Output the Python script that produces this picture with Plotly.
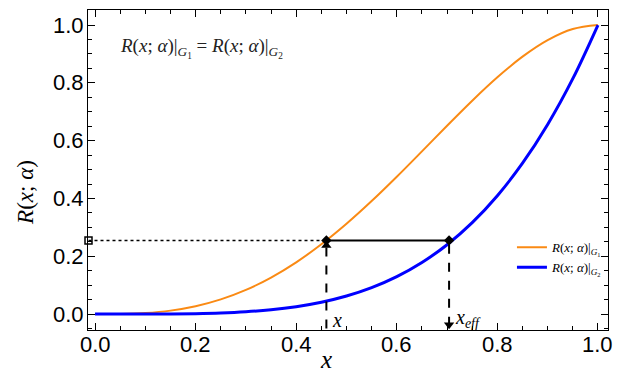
import plotly.graph_objects as go

# Sample points of the two response curves
x_grid = [0.0, 0.05, 0.10, 0.15, 0.20, 0.25, 0.30, 0.35, 0.40, 0.45, 0.50,
          0.55, 0.60, 0.65, 0.70, 0.75, 0.80, 0.85, 0.90, 0.95, 1.0]
r_g1 = [0.0, 0.0005, 0.0037, 0.0120, 0.0272, 0.0508, 0.0837, 0.1265, 0.1792,
        0.2415, 0.3125, 0.3910, 0.4752, 0.5630, 0.6517, 0.7383, 0.8192,
        0.8905, 0.9477, 0.9860, 1.0]
r_g2 = [0.0, 0.0, 0.0001, 0.0005, 0.0016, 0.0039, 0.0081, 0.0150, 0.0256,
        0.0410, 0.0625, 0.0915, 0.1296, 0.1785, 0.2401, 0.3164, 0.4096,
        0.5220, 0.6561, 0.8145, 1.0]

# Matching construction
r_level = 0.255
x_point = 0.46
x_eff = 0.704
x_axis_left = -0.013
y_floor = -0.05

tick_vals = [0.0, 0.2, 0.4, 0.6, 0.8, 1.0]
tick_text = ["0.0", "0.2", "0.4", "0.6", "0.8", "1.0"]

ORANGE = "#FA8A14"
BLUE = "#0000FF"
SERIF = "Liberation Serif"
SANS = "Liberation Sans"

R_LABEL = "<i>R</i>(<i>x</i>; <i>α</i>)"

fig = go.Figure()

fig.add_trace(go.Scatter(
    x=x_grid, y=r_g1, mode="lines", line=dict(color=ORANGE, width=2, shape="spline"),
    name=R_LABEL + "|<sub><i>G</i><sub>1</sub></sub>"))
fig.add_trace(go.Scatter(
    x=x_grid, y=r_g2, mode="lines", line=dict(color=BLUE, width=3, shape="spline"),
    name=R_LABEL + "|<sub><i>G</i><sub>2</sub></sub>"))

# dotted guide from the axis to the first curve
fig.add_trace(go.Scatter(
    x=[x_axis_left, x_point], y=[r_level, r_level], mode="lines",
    line=dict(color="black", width=1.5, dash="dot"), showlegend=False, hoverinfo="skip"))
# solid connector between the curves
fig.add_trace(go.Scatter(
    x=[x_point, x_eff], y=[r_level, r_level], mode="lines",
    line=dict(color="black", width=2), showlegend=False, hoverinfo="skip"))
# dashed drop lines
fig.add_trace(go.Scatter(
    x=[x_point, x_point], y=[y_floor, r_level], mode="lines",
    line=dict(color="black", width=2, dash="dash"), showlegend=False, hoverinfo="skip"))
fig.add_trace(go.Scatter(
    x=[x_eff, x_eff], y=[y_floor + 0.01, r_level], mode="lines",
    line=dict(color="black", width=2, dash="dash"), showlegend=False, hoverinfo="skip"))

# arrow heads
fig.add_trace(go.Scatter(
    x=[x_point], y=[r_level - 0.018], mode="markers",
    marker=dict(symbol="triangle-up", size=9, color="black"),
    showlegend=False, hoverinfo="skip", cliponaxis=False))
fig.add_trace(go.Scatter(
    x=[x_eff], y=[y_floor + 0.013], mode="markers",
    marker=dict(symbol="triangle-down", size=9, color="black"),
    showlegend=False, hoverinfo="skip", cliponaxis=False))

# intersection markers
fig.add_trace(go.Scatter(
    x=[x_point, x_eff], y=[r_level, r_level], mode="markers",
    marker=dict(symbol="diamond", size=8, color="black"),
    showlegend=False, hoverinfo="skip"))
fig.add_trace(go.Scatter(
    x=[x_axis_left], y=[r_level], mode="markers",
    marker=dict(symbol="square-open", size=7, color="black", line=dict(width=1.5)),
    showlegend=False, hoverinfo="skip", cliponaxis=False))

# point labels
fig.add_annotation(x=x_point + 0.008, y=-0.022, text="<i>x</i>", showarrow=False,
                   xanchor="left", font=dict(family=SERIF, size=20, color="black"))
fig.add_annotation(x=x_eff + 0.008, y=-0.016, text="<i>x<sub>eff</sub></i>", showarrow=False,
                   xanchor="left", font=dict(family=SERIF, size=20, color="black"))
fig.add_annotation(x=0.045, y=0.92, xref="x", yref="y",
                   text=R_LABEL + "|<sub><i>G</i><sub>1</sub></sub> = " + R_LABEL
                   + "|<sub><i>G</i><sub>2</sub></sub>",
                   showarrow=False, xanchor="left",
                   font=dict(family=SERIF, size=19, color="#222"))

# tick labels placed tight against the frame
tick_font = dict(family=SANS, size=22, color="black")
for v, t in zip(tick_vals, tick_text):
    fig.add_annotation(x=v, xref="x", y=0, yref="paper", text=t, showarrow=False,
                       yanchor="top", yshift=0, font=tick_font)
    fig.add_annotation(x=0, xref="paper", y=v, yref="y", text=t, showarrow=False,
                       xanchor="right", xshift=-2, font=tick_font)

# axis titles
fig.add_annotation(x=0.458, xref="paper", y=0, yref="paper", text="<i>x</i>",
                   showarrow=False, yanchor="bottom", yshift=-44, borderpad=0,
                   font=dict(family=SERIF, size=25, color="black"))
fig.add_annotation(x=0, xref="paper", y=0.43, yref="paper", text=R_LABEL,
                   showarrow=False, textangle=-90, xanchor="right", xshift=-48,
                   font=dict(family=SERIF, size=23, color="black"))

axis_common = dict(
    showline=True, linecolor="black", linewidth=1, mirror="allticks",
    ticks="inside", ticklen=7, tickwidth=1, tickcolor="black",
    showgrid=False, zeroline=False, automargin=False,
    tickvals=tick_vals, showticklabels=False,
    minor=dict(ticks="inside", ticklen=4, tickwidth=1, tickcolor="black", dtick=0.05),
)

fig.update_xaxes(range=[-0.014, 1.02], **axis_common)
fig.update_yaxes(range=[-0.055, 1.052], **axis_common)

fig.update_layout(
    width=617, height=374,
    margin=dict(l=88, r=9, t=10, b=44),
    plot_bgcolor="white", paper_bgcolor="white",
    legend=dict(x=0.998, y=0.305, xanchor="right", yanchor="top",
                bgcolor="rgba(0,0,0,0)", font=dict(family=SERIF, size=13, color="black"),
                tracegroupgap=4, itemwidth=30),
)

fig.write_html("out.html")
